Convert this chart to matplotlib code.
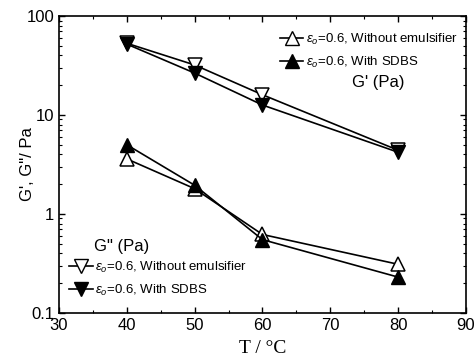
import numpy as np
import matplotlib.pyplot as plt
from matplotlib.lines import Line2D
from matplotlib.ticker import LogLocator, NullFormatter, MultipleLocator

plt.rcParams['font.family'] = ['Liberation Sans', 'DejaVu Sans']
plt.rcParams['mathtext.fontset'] = 'custom'
plt.rcParams['mathtext.rm'] = 'Liberation Sans'
plt.rcParams['mathtext.it'] = 'Liberation Sans:italic'

T = [40, 50, 60, 80]
# G' (upper curves, down triangles)
g1_plain = [53, 32, 16, 4.4]
g1_sdbs = [52, 26.5, 12.6, 4.2]
# G'' (lower curves, up triangles)
g2_plain = [3.6, 1.8, 0.62, 0.31]
g2_sdbs = [5.0, 1.95, 0.55, 0.23]

lab_plain = r'$\varepsilon_o$=0.6, Without emulsifier'
lab_sdbs = r'$\varepsilon_o$=0.6, With SDBS'

fig = plt.figure(figsize=(4.75, 3.63), dpi=100)
ax = fig.add_axes([0.124, 0.138, 0.857, 0.818])

ms = 10
lw = 1.2
ax.plot(T, g1_plain, color='k', lw=lw, marker='v', ms=ms, mfc='white', mec='k', mew=1.1)
ax.plot(T, g1_sdbs, color='k', lw=lw, marker='v', ms=ms, mfc='k', mec='k')
ax.plot(T, g2_plain, color='k', lw=lw, marker='^', ms=ms, mfc='white', mec='k', mew=1.1)
ax.plot(T, g2_sdbs, color='k', lw=lw, marker='^', ms=ms, mfc='k', mec='k')

ax.set_yscale('log')
ax.set_xlim(30, 90)
ax.set_ylim(0.1, 100)
ax.xaxis.set_major_locator(MultipleLocator(10))
ax.xaxis.set_minor_locator(MultipleLocator(5))
ax.yaxis.set_major_locator(LogLocator(base=10))
ax.yaxis.set_minor_locator(LogLocator(base=10, subs=np.arange(2, 10)))
ax.yaxis.set_minor_formatter(NullFormatter())
ax.set_yticks([0.1, 1, 10, 100])
ax.set_yticklabels(['0.1', '1', '10', '100'])
ax.tick_params(which='both', direction='in', top=True, right=True, labelsize=12)
ax.tick_params(which='major', length=4, width=1)
ax.tick_params(which='minor', length=2.5, width=0.8)
for s in ax.spines.values():
    s.set_linewidth(1.2)

ax.set_xlabel('T / °C', fontsize=14, family=['Liberation Serif', 'DejaVu Serif'], labelpad=5)
ax.set_ylabel('G\', G"/ Pa', fontsize=12, labelpad=-6)

# legends as in the original figure
h_up_open = Line2D([], [], color='k', lw=lw, marker='^', ms=ms, mfc='white', mec='k')
h_up_fill = Line2D([], [], color='k', lw=lw, marker='^', ms=ms, mfc='k', mec='k')
h_dn_open = Line2D([], [], color='k', lw=lw, marker='v', ms=ms, mfc='white', mec='k')
h_dn_fill = Line2D([], [], color='k', lw=lw, marker='v', ms=ms, mfc='k', mec='k')

leg1 = ax.legend([h_up_open, h_up_fill], [lab_plain, lab_sdbs], loc='upper right',
                 bbox_to_anchor=(1.0, 0.973), frameon=False, fontsize=9.5,
                 handlelength=1.8, handletextpad=0.2, labelspacing=0.6, borderaxespad=0.2)
ax.add_artist(leg1)
ax.legend([h_dn_open, h_dn_fill], [lab_plain, lab_sdbs], loc='lower left',
          bbox_to_anchor=(0.005, 0.025), frameon=False, fontsize=9.5,
          handlelength=1.8, handletextpad=0.2, labelspacing=0.6, borderaxespad=0.2)

ax.text(0.72, 0.76, "G' (Pa)", transform=ax.transAxes, fontsize=12)
ax.text(0.085, 0.21, 'G" (Pa)', transform=ax.transAxes, fontsize=12)

fig.savefig('out.png', dpi=100)
